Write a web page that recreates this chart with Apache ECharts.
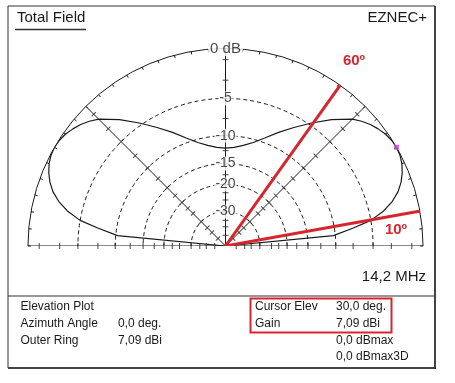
<!DOCTYPE html>
<html>
<head>
<meta charset="utf-8">
<script src="https://cdn.jsdelivr.net/npm/echarts@6/dist/echarts.min.js"></script>
<style>
html,body{margin:0;padding:0;background:#fff;}
#chart{width:455px;height:383px;}
</style>
</head>
<body>
<div id="chart"></div>
<script>
// ---- data ----
const elevationDeg = [0, 5.5, 8, 10, 12.5, 15, 17.5, 20, 22.5, 25, 27.5, 30, 32.5, 35, 37.5, 40, 42.5, 45, 50, 55, 60, 65, 70, 75, 80, 85, 90,
  95, 100, 105, 110, 115, 120, 125, 130, 135, 137.5, 140, 142.5, 145, 147.5, 150, 152.5, 155, 157.5, 160, 162.5, 165, 167.5, 170, 172, 174.5, 180];
const gainDb = [-99, -10.3, -7.3, -5.0, -3.4, -2.3, -1.5, -0.95, -0.55, -0.25, -0.07, 0, -0.06, -0.2, -0.45, -0.75, -1.15, -1.65, -3.1, -4.7, -6.3, -7.8, -9.3, -10.5, -11.3, -11.85, -12.05,
  -11.85, -11.3, -10.5, -9.3, -7.8, -6.3, -4.7, -3.1, -1.65, -1.15, -0.75, -0.45, -0.2, -0.06, 0, -0.07, -0.25, -0.55, -0.95, -1.5, -2.3, -3.4, -5.0, -7.3, -10.3, -99];
const ringDb = [-5, -10, -15, -20, -30];
const ringLabels = ['-5', '-10', '-15', '-20', '-30'];
const outerLabel = '0 dB';
const tickDb = [-1, -3, -5, -7.5, -10, -12.5, -15, -17.5, -20, -22.5, -25, -30, -35, -40, -50];
const radialDeg = [45, 90, 135];
const markerDeg = [10.2, 54.5];
const markerLabels = ['10º', '60º'];
const cursorElev = 30;

// ARRL log-periodic radial scale
const dbToR = db => (db <= -90 ? 0 : Math.pow(0.89, -db / 2));

const chart = echarts.init(document.getElementById('chart'), null, {renderer: 'canvas'});
const FONT = '"Liberation Sans", Arial, sans-serif';
const INK = '#1a1a1a';
const series = [];

// dashed rings
ringDb.forEach(db => {
  const pts = [];
  for (let a = 0; a <= 180; a += 1) pts.push([dbToR(db), a]);
  series.push({type: 'line', coordinateSystem: 'polar', data: pts, symbol: 'none', silent: true,
    lineStyle: {color: INK, width: 1, type: [4, 3]}, z: 2});
});
// baseline
series.push({type: 'line', coordinateSystem: 'polar', data: [[1, 180], [0, 0], [1, 0]], symbol: 'none',
  lineStyle: {color: INK, width: 1}, z: 2});
// radial lines
radialDeg.forEach(a => {
  series.push({type: 'line', coordinateSystem: 'polar', data: [[0, a], [1, a]], symbol: 'none',
    lineStyle: {color: INK, width: 1}, z: 2});
});
// ticks on baseline and radial lines
const tickPts = [];
[0, 180].concat(radialDeg).forEach(a => {
  tickDb.forEach(db => tickPts.push({value: [dbToR(db), a], symbolRotate: a}));
});
series.push({type: 'scatter', coordinateSystem: 'polar', data: tickPts, symbol: 'rect', symbolSize: [1, 6],
  itemStyle: {color: INK}, silent: true, z: 3});
// pattern
series.push({type: 'line', coordinateSystem: 'polar', data: elevationDeg.map((a, i) => [dbToR(gainDb[i]), a]),
  symbol: 'none', lineStyle: {color: INK, width: 1.2}, z: 4});
// cursor
series.push({type: 'scatter', coordinateSystem: 'polar', data: [[1, cursorElev]], symbol: 'rect', symbolSize: 5,
  itemStyle: {color: '#c04cc8'}, z: 6});
// red lines
markerDeg.forEach(a => {
  series.push({type: 'line', coordinateSystem: 'polar', data: [[0, a], [1.01, a]], symbol: 'none',
    lineStyle: {color: '#d5262e', width: 3}, z: 7});
});
// ring labels
series.push({type: 'scatter', coordinateSystem: 'polar',
  data: ringDb.map((db, i) => ({value: [dbToR(db), 90], name: ringLabels[i]})),
  symbolSize: 1, itemStyle: {color: 'rgba(0,0,0,0)'}, z: 8,
  label: {show: true, position: 'inside', formatter: p => p.name, color: INK, fontFamily: FONT,
    fontSize: 14, backgroundColor: '#fff', padding: [0, 1]}});
series.push({type: 'scatter', coordinateSystem: 'polar',
  data: [{value: [1, 90], name: outerLabel}],
  symbolSize: 1, itemStyle: {color: 'rgba(0,0,0,0)'}, z: 8,
  label: {show: true, position: 'inside', formatter: p => p.name, color: INK, fontFamily: FONT,
    fontSize: 15, backgroundColor: '#fff', padding: [0, 2]}});

const option = {
  animation: false,
  polar: {center: [225.5, 246], radius: 197.5},
  angleAxis: {type: 'value', min: 0, max: 180, interval: 5, startAngle: 0, endAngle: 180, clockwise: false,
    axisLine: {lineStyle: {color: INK, width: 1}},
    axisTick: {inside: true, length: 3, lineStyle: {color: INK}},
    axisLabel: {show: false}, splitLine: {show: false}},
  radiusAxis: {type: 'value', min: 0, max: 1, axisLine: {show: false}, axisTick: {show: false},
    axisLabel: {show: false}, splitLine: {show: false}},
  series: series,
  graphic: [
    {type: 'rect', shape: {x: 8, y: 6, width: 427, height: 362}, style: {fill: 'none', stroke: '#333', lineWidth: 1}, z: 1},
    {type: 'line', shape: {x1: 435, y1: 6, x2: 435, y2: 369}, style: {stroke: '#222', lineWidth: 1.5}},
    {type: 'line', shape: {x1: 8, y1: 368, x2: 436, y2: 368}, style: {stroke: '#222', lineWidth: 1.5}},
    {type: 'line', shape: {x1: 8, y1: 296, x2: 435, y2: 296}, style: {stroke: '#333', lineWidth: 1.2}},
    {type: 'text', x: 17, y: 18, style: {text: 'Total Field', font: '15px ' + FONT, fill: INK, verticalAlign: 'middle'}},
    {type: 'line', shape: {x1: 15, y1: 29.5, x2: 86, y2: 29.5}, style: {stroke: '#333', lineWidth: 1.5}},
    {type: 'text', x: 427, y: 18, style: {text: 'EZNEC+', font: '15px ' + FONT, fill: INK, align: 'right', verticalAlign: 'middle'}},
    {type: 'text', x: 426, y: 277, style: {text: '14,2 MHz', font: '15px ' + FONT, fill: INK, align: 'right', verticalAlign: 'middle'}},
    {type: 'text', x: 354, y: 61, style: {text: markerLabels[1], font: 'bold 15px ' + FONT, fill: '#d5262e', align: 'center', verticalAlign: 'middle'}, z: 10},
    {type: 'text', x: 396, y: 230, style: {text: markerLabels[0], font: 'bold 15px ' + FONT, fill: '#d5262e', align: 'center', verticalAlign: 'middle'}, z: 10},
    {type: 'text', x: 20.5, y: 307, style: {text: 'Elevation Plot', font: '12px ' + FONT, fill: INK, verticalAlign: 'middle'}},
    {type: 'text', x: 20.5, y: 323.5, style: {text: 'Azimuth Angle', font: '12px ' + FONT, fill: INK, verticalAlign: 'middle'}},
    {type: 'text', x: 20.5, y: 340.5, style: {text: 'Outer Ring', font: '12px ' + FONT, fill: INK, verticalAlign: 'middle'}},
    {type: 'text', x: 118, y: 323.5, style: {text: '0,0 deg.', font: '12px ' + FONT, fill: INK, verticalAlign: 'middle'}},
    {type: 'text', x: 118, y: 340.5, style: {text: '7,09 dBi', font: '12px ' + FONT, fill: INK, verticalAlign: 'middle'}},
    {type: 'text', x: 255, y: 307, style: {text: 'Cursor Elev', font: '12px ' + FONT, fill: INK, verticalAlign: 'middle'}},
    {type: 'text', x: 255, y: 323.5, style: {text: 'Gain', font: '12px ' + FONT, fill: INK, verticalAlign: 'middle'}},
    {type: 'text', x: 336, y: 307, style: {text: '30,0 deg.', font: '12px ' + FONT, fill: INK, verticalAlign: 'middle'}},
    {type: 'text', x: 336, y: 323.5, style: {text: '7,09 dBi', font: '12px ' + FONT, fill: INK, verticalAlign: 'middle'}},
    {type: 'text', x: 336, y: 340.5, style: {text: '0,0 dBmax', font: '12px ' + FONT, fill: INK, verticalAlign: 'middle'}},
    {type: 'text', x: 336, y: 357, style: {text: '0,0 dBmax3D', font: '12px ' + FONT, fill: INK, verticalAlign: 'middle'}},
    {type: 'rect', shape: {x: 250.5, y: 298.5, width: 141, height: 34}, style: {fill: 'none', stroke: '#d5262e', lineWidth: 2}, z: 10}
  ]
};
chart.setOption(option);
</script>
</body>
</html>
